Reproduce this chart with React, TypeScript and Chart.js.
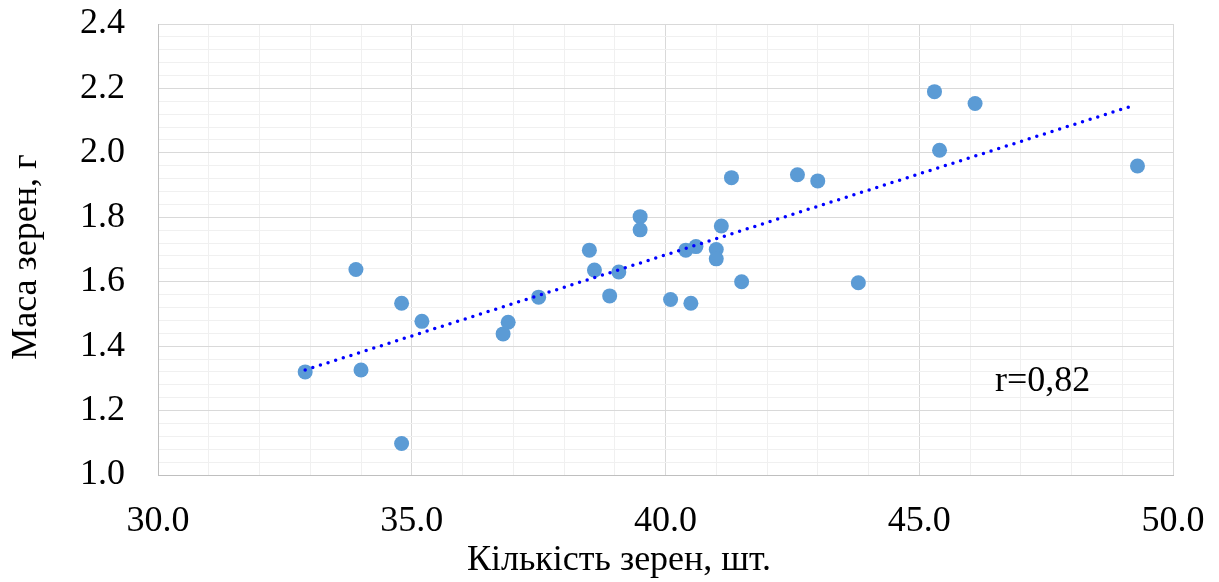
import React, { useEffect, useRef } from "react";
import { Chart, registerables } from "chart.js";

Chart.register(...registerables);

const grainCount = [
  32.9, 33.9, 34.0, 34.8, 34.8, 35.2, 36.8, 36.9, 37.5, 38.5, 38.6, 38.9, 39.08, 39.5, 39.5,
  40.1, 40.4, 40.5, 40.6, 41.0, 41.0, 41.1, 41.3, 41.5, 42.6, 43.0, 43.8, 45.3, 45.4, 46.1, 49.3,
];
const grainMass = [
  1.32, 1.638, 1.326, 1.533, 1.098, 1.477, 1.438, 1.474, 1.552, 1.698, 1.636, 1.556, 1.63, 1.802, 1.761,
  1.545, 1.698, 1.533, 1.709, 1.7, 1.671, 1.773, 1.923, 1.6, 1.932, 1.913, 1.597, 2.19, 2.008, 2.153, 1.959,
];
const trendX = [32.9, 49.2];
const trendY = [1.326, 2.146];

const xTitle = "Кількість зерен, шт.";
const yTitle = "Маса зерен, г";
const corrLabel = "r=0,82";

const FONT = "'Liberation Serif', 'Times New Roman', serif";

const textPlugin = {
  id: "customText",
  afterDraw(chart: any) {
    const { ctx, chartArea } = chart;
    ctx.save();
    ctx.fillStyle = "#000";
    ctx.font = `36px ${FONT}`;
    ctx.textAlign = "center";
    ctx.textBaseline = "alphabetic";
    ctx.fillText(xTitle, chartArea.left + 461, 570);
    ctx.save();
    ctx.translate(36, 257);
    ctx.rotate(-Math.PI / 2);
    ctx.fillText(yTitle, 0, 0);
    ctx.restore();
    ctx.textAlign = "left";
    ctx.fillText(corrLabel, 995, 391);
    ctx.restore();
  },
};

export default function App() {
  const ref = useRef<HTMLCanvasElement>(null);
  useEffect(() => {
    if (!ref.current) return;
    const pts = grainCount.map((x, i) => ({ x, y: grainMass[i] }));
    const trend = trendX.map((x, i) => ({ x, y: trendY[i] }));
    const chart = new Chart(ref.current, {
      type: "scatter",
      data: {
        datasets: [
          {
            type: "line" as any,
            data: trend,
            borderColor: "#0000FF",
            borderWidth: 3.5,
            borderDash: [0, 8],
            borderCapStyle: "round",
            pointRadius: 0,
            fill: false,
            order: 0,
          } as any,
          {
            data: pts,
            backgroundColor: "#5B9BD5",
            borderWidth: 0,
            pointRadius: 7.5,
            pointHoverRadius: 7.5,
            order: 1,
          },
        ],
      },
      options: {
        animation: false,
        responsive: true,
        maintainAspectRatio: false,
        layout: { padding: { top: 24, right: 46, left: 0, bottom: 0 } },
        plugins: { legend: { display: false }, tooltip: { enabled: false } },
        scales: {
          x: {
            type: "linear",
            min: 30,
            max: 50,
            afterFit: (s: any) => {
              s.height = 107;
              s.paddingLeft = 0;
              s.paddingRight = 0;
            },
            ticks: {
              stepSize: 1,
              autoSkip: false,
              maxRotation: 0,
              padding: 25,
              color: "#000",
              font: { family: FONT, size: 36 },
              callback: (v: any) => (Math.round(Number(v)) % 5 === 0 ? Number(v).toFixed(1) : ""),
            },
            grid: {
              drawTicks: false,
              color: (c: any) =>
                c.tick && Math.round(c.tick.value) % 5 === 0 ? "#D9D9D9" : "#F0F0F0",
              lineWidth: 1,
            },
            border: { color: "#BFBFBF", width: 1 },
          },
          y: {
            type: "linear",
            min: 1.0,
            max: 2.4,
            afterFit: (s: any) => {
              s.width = 158;
              s.paddingTop = 0;
              s.paddingBottom = 0;
            },
            ticks: {
              stepSize: 0.04,
              autoSkip: false,
              padding: 33,
              color: "#000",
              font: { family: FONT, size: 36 },
              callback: (v: any) =>
                Math.round(Number(v) * 100) % 20 === 0 ? Number(v).toFixed(1) : "",
            },
            grid: {
              drawTicks: false,
              color: (c: any) =>
                c.tick && Math.round(c.tick.value * 100) % 20 === 0 ? "#D9D9D9" : "#F0F0F0",
              lineWidth: 1,
            },
            border: { color: "#BFBFBF", width: 1 },
          },
        },
      },
      plugins: [textPlugin],
    });
    return () => chart.destroy();
  }, []);
  return (
    <div style={{ position: "fixed", left: 0, top: 0, width: 1219, height: 582, background: "#fff" }}>
      <canvas ref={ref} />
    </div>
  );
}
